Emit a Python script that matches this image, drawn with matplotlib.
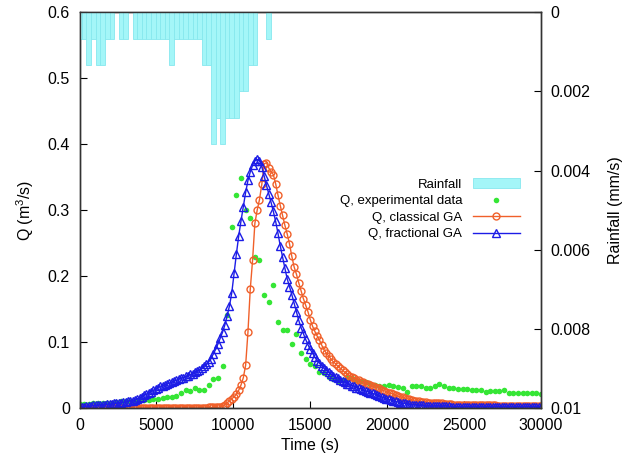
import matplotlib.pyplot as plt
import numpy as np

plt.rcParams['font.family'] = ['Liberation Sans', 'DejaVu Sans']
plt.rcParams['mathtext.fontset'] = 'custom'
plt.rcParams['mathtext.rm'] = 'Liberation Sans'

# rainfall (mm/s), one bar per 300 s
rain_time = np.arange(0, 12301, 300)
rain_rate = [0.00067, 0.00067, 0.00133, 0.00067, 0.00133, 0.00133, 0.00067, 0.00067, 0.0, 0.00067,
             0.00067, 0.0, 0.00067, 0.00067, 0.00067, 0.00067, 0.00067, 0.00067, 0.00067, 0.00067,
             0.00133, 0.00067, 0.00067, 0.00067, 0.00067, 0.00067, 0.00067, 0.00133, 0.00133, 0.00333,
             0.00267, 0.00333, 0.00267, 0.00267, 0.00267, 0.002, 0.002, 0.00133, 0.00133, 0.0,
             0.0, 0.00067]

# measured discharge, every 300 s
exp_time = np.arange(0, 30001, 300)
q_exp = [0.006, 0.006, 0.006, 0.007, 0.007, 0.008, 0.008, 0.008, 0.009, 0.010,
         0.010, 0.011, 0.011, 0.012, 0.012, 0.012, 0.013, 0.014, 0.015, 0.016,
         0.017, 0.018, 0.023, 0.028, 0.026, 0.031, 0.027, 0.028, 0.035, 0.044,
         0.045, 0.064, 0.141, 0.275, 0.323, 0.348, 0.300, 0.288, 0.229, 0.224,
         0.171, 0.161, 0.186, 0.131, 0.119, 0.118, 0.097, 0.112, 0.083, 0.075,
         0.067, 0.064, 0.054, 0.053, 0.047, 0.044, 0.041, 0.043, 0.046, 0.045,
         0.043, 0.041, 0.039, 0.037, 0.035, 0.033, 0.034, 0.035, 0.034, 0.032,
         0.030, 0.024, 0.034, 0.034, 0.033, 0.031, 0.031, 0.034, 0.037, 0.033,
         0.031, 0.030, 0.029, 0.029, 0.029, 0.028, 0.027, 0.027, 0.025, 0.026,
         0.026, 0.026, 0.027, 0.023, 0.023, 0.023, 0.023, 0.023, 0.023, 0.023,
         0.021]

# simulated discharge, every 150 s
sim_time = np.arange(0, 30001, 150)
q_classical = [0.000, 0.000, 0.000, 0.000, 0.000, 0.000, 0.000, 0.000, 0.000, 0.000,
               0.000, 0.000, 0.000, 0.000, 0.000, 0.000, 0.000, 0.000, 0.000, 0.000,
               0.000, 0.000, 0.000, 0.000, 0.000, 0.000, 0.000, 0.000, 0.000, 0.000,
               0.000, 0.000, 0.000, 0.000, 0.000, 0.000, 0.000, 0.000, 0.000, 0.000,
               0.000, 0.000, 0.000, 0.000, 0.000, 0.000, 0.000, 0.000, 0.000, 0.000,
               0.000, 0.000, 0.000, 0.000, 0.000, 0.000, 0.001, 0.001, 0.001, 0.001,
               0.001, 0.002, 0.003, 0.005, 0.008, 0.011, 0.014, 0.017, 0.021, 0.027,
               0.035, 0.046, 0.065, 0.115, 0.180, 0.224, 0.280, 0.300, 0.316, 0.339,
               0.370, 0.372, 0.364, 0.358, 0.354, 0.340, 0.323, 0.307, 0.292, 0.277,
               0.264, 0.249, 0.230, 0.214, 0.203, 0.190, 0.178, 0.166, 0.156, 0.146,
               0.134, 0.124, 0.116, 0.109, 0.103, 0.095, 0.088, 0.083, 0.079, 0.074,
               0.070, 0.067, 0.063, 0.060, 0.057, 0.054, 0.051, 0.049, 0.047, 0.045,
               0.043, 0.042, 0.040, 0.039, 0.037, 0.036, 0.035, 0.034, 0.032, 0.031,
               0.030, 0.028, 0.026, 0.025, 0.023, 0.022, 0.021, 0.019, 0.018, 0.017,
               0.016, 0.015, 0.014, 0.013, 0.012, 0.011, 0.010, 0.010, 0.009, 0.009,
               0.009, 0.008, 0.008, 0.008, 0.007, 0.007, 0.007, 0.007, 0.006, 0.006,
               0.006, 0.006, 0.005, 0.005, 0.005, 0.005, 0.005, 0.005, 0.005, 0.004,
               0.004, 0.004, 0.004, 0.004, 0.004, 0.004, 0.004, 0.004, 0.004, 0.004,
               0.004, 0.003, 0.003, 0.003, 0.003, 0.003, 0.003, 0.003, 0.003, 0.003,
               0.003, 0.003, 0.003, 0.003, 0.003, 0.003, 0.003, 0.003, 0.003, 0.003,
               0.003]
q_fractional = [0.002, 0.002, 0.002, 0.003, 0.003, 0.003, 0.004, 0.004, 0.004, 0.005,
                0.005, 0.005, 0.006, 0.006, 0.006, 0.007, 0.007, 0.008, 0.008, 0.009,
                0.009, 0.010, 0.011, 0.011, 0.012, 0.014, 0.015, 0.017, 0.019, 0.021,
                0.023, 0.025, 0.027, 0.029, 0.031, 0.033, 0.034, 0.035, 0.037, 0.038,
                0.039, 0.041, 0.042, 0.044, 0.045, 0.046, 0.048, 0.049, 0.051, 0.052,
                0.054, 0.056, 0.058, 0.060, 0.063, 0.066, 0.070, 0.075, 0.082, 0.089,
                0.097, 0.106, 0.115, 0.126, 0.140, 0.155, 0.175, 0.205, 0.234, 0.261,
                0.284, 0.305, 0.327, 0.345, 0.358, 0.368, 0.375, 0.377, 0.375, 0.366,
                0.352, 0.338, 0.325, 0.312, 0.298, 0.283, 0.265, 0.246, 0.229, 0.212,
                0.196, 0.184, 0.172, 0.159, 0.146, 0.133, 0.122, 0.113, 0.104, 0.096,
                0.089, 0.083, 0.077, 0.072, 0.068, 0.064, 0.060, 0.057, 0.054, 0.051,
                0.049, 0.047, 0.045, 0.043, 0.041, 0.039, 0.037, 0.036, 0.034, 0.033,
                0.031, 0.030, 0.029, 0.027, 0.026, 0.025, 0.023, 0.022, 0.021, 0.019,
                0.018, 0.017, 0.015, 0.014, 0.013, 0.012, 0.011, 0.010, 0.009, 0.008,
                0.007, 0.007, 0.006, 0.006, 0.005, 0.005, 0.005, 0.004, 0.004, 0.004,
                0.003, 0.003, 0.003, 0.003, 0.003, 0.003, 0.003, 0.003, 0.003, 0.003,
                0.003, 0.002, 0.002, 0.002, 0.002, 0.002, 0.002, 0.002, 0.002, 0.002,
                0.002, 0.002, 0.002, 0.002, 0.002, 0.002, 0.002, 0.002, 0.002, 0.002,
                0.002, 0.002, 0.002, 0.002, 0.002, 0.002, 0.002, 0.002, 0.002, 0.002,
                0.002, 0.002, 0.002, 0.002, 0.002, 0.002, 0.002, 0.002, 0.002, 0.002,
                0.002]

fig = plt.figure(figsize=(6.29, 4.62), dpi=100)
ax = fig.add_axes([0.1264, 0.1169, 0.7337, 0.8565])
ax2 = ax.twinx()

bars = ax2.bar(rain_time, rain_rate, width=300, color='#a4f6f8', edgecolor='#86e8ee',
               linewidth=0.6)
ax2.set_ylim(0.01, 0)
ax2.set_yticks([0, 0.002, 0.004, 0.006, 0.008, 0.01])
ax2.set_yticklabels(['0', '0.002', '0.004', '0.006', '0.008', '0.01'])

l_exp, = ax.plot(exp_time, q_exp, 'o', color='#35e635', markersize=4.0, markeredgewidth=0)
l_cls, = ax.plot(sim_time, q_classical, '-o', color='#f0602a', linewidth=1.0, markersize=5.0,
                 markerfacecolor='none', markeredgewidth=1.0)
l_frc, = ax.plot(sim_time, q_fractional, '-^', color='#1c1ce6', linewidth=1.0, markersize=5.4,
                 markerfacecolor='none', markeredgewidth=1.0)

ax.set_xlim(0, 30000)
ax.set_ylim(0, 0.6)
ax.set_xticks(np.arange(0, 30001, 5000))
ax.set_yticks([0, 0.1, 0.2, 0.3, 0.4, 0.5, 0.6])
ax.set_yticklabels(['0', '0.1', '0.2', '0.3', '0.4', '0.5', '0.6'])

ax.tick_params(direction='in', length=5, labelsize=11.5, top=False, right=False, pad=7)
ax2.tick_params(direction='in', length=5, labelsize=11.5, pad=7)
for a in (ax, ax2):
    for s in a.spines.values():
        s.set_color('#333333')
        s.set_linewidth(1.0)

ax.set_xlabel('Time (s)', fontsize=11.5, labelpad=4)
ax.set_ylabel('Q (m$^3$/s)', fontsize=11.5, labelpad=8)
ax2.set_ylabel('Rainfall (mm/s)', fontsize=11.5, labelpad=12)

leg = ax2.legend([bars, l_exp, l_cls, l_frc],
                 ['Rainfall', 'Q, experimental data', 'Q, classical GA', 'Q, fractional GA'],
                 loc='upper right', bbox_to_anchor=(0.955, 0.58), frameon=False,
                 markerfirst=False, fontsize=9.5, handlelength=3.6, numpoints=1,
                 labelspacing=0.33, handletextpad=0.8, borderaxespad=0, borderpad=0)

fig.savefig('out.png', dpi=100)
